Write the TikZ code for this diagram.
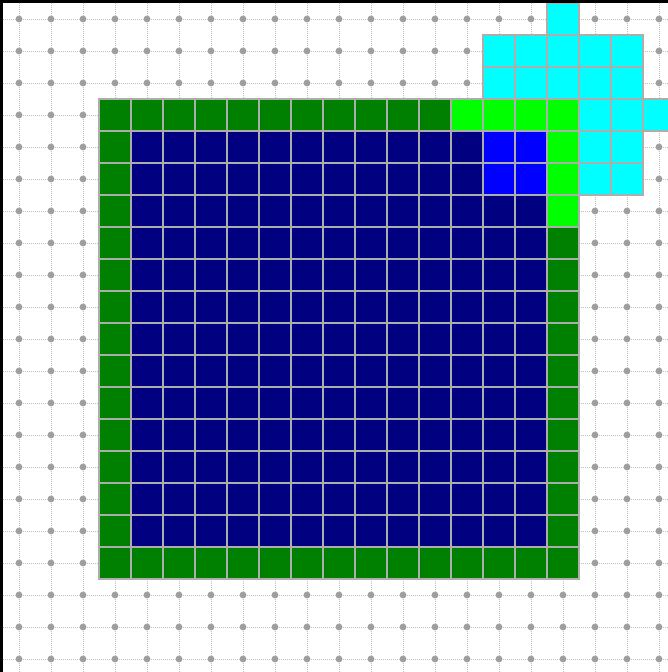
\documentclass[tikz,border=0pt]{standalone}
\begin{document}
\begin{tikzpicture}[x=1pt,y=-1pt,
  gridline/.style={draw=black!25,line width=1pt,dash pattern=on 1pt off 1pt},
  griddot/.style={fill=black!38},
  cellbox/.style={draw=black!32,line width=1.2pt}]
\definecolor{dkgreen}{RGB}{0,128,0}
\definecolor{brgreen}{RGB}{0,255,0}
\definecolor{navy}{RGB}{0,0,128}
\definecolor{brblue}{RGB}{0,0,255}
\definecolor{cyanc}{RGB}{0,255,255}
\fill[black] (0,0) rectangle (668,672);
\useasboundingbox (0,0) rectangle (668,672);
\fill[white] (3,3) rectangle (668,672);
\begin{scope}
\clip (3,3) rectangle (668,672);
\foreach \k in {0,...,20}{
  \draw[gridline] (19+32*\k,3) -- (19+32*\k,672);
  \draw[gridline] (3,19+32*\k) -- (668,19+32*\k);
}
\foreach \a in {0,...,20}{
  \foreach \b in {0,...,20}{
    \fill[griddot] (19+32*\a,19+32*\b) circle (3.4);
  }
}
\newcommand{\cellat}[3]{\path[cellbox,fill=#3] (3+32*#1,3+32*#2) rectangle (35+32*#1,35+32*#2);}
% dark green border
\foreach \i in {3,...,13}{\cellat{\i}{3}{dkgreen}}
\foreach \j in {4,...,17}{\cellat{3}{\j}{dkgreen}}
\foreach \i in {4,...,17}{\cellat{\i}{17}{dkgreen}}
\foreach \j in {7,...,16}{\cellat{17}{\j}{dkgreen}}
% bright green
\foreach \i in {14,...,17}{\cellat{\i}{3}{brgreen}}
\foreach \j in {4,...,6}{\cellat{17}{\j}{brgreen}}
% interior
\foreach \i in {4,...,16}{
  \foreach \j in {4,...,16}{
    \cellat{\i}{\j}{navy}
  }
}
\foreach \i in {15,16}{\foreach \j in {4,5}{\cellat{\i}{\j}{brblue}}}
% cyan
\cellat{17}{0}{cyanc}
\foreach \i in {15,...,19}{\foreach \j in {1,2}{\cellat{\i}{\j}{cyanc}}}
\foreach \i in {18,...,20}{\cellat{\i}{3}{cyanc}}
\foreach \i in {18,19}{\foreach \j in {4,5}{\cellat{\i}{\j}{cyanc}}}
\end{scope}
\end{tikzpicture}
\end{document}
